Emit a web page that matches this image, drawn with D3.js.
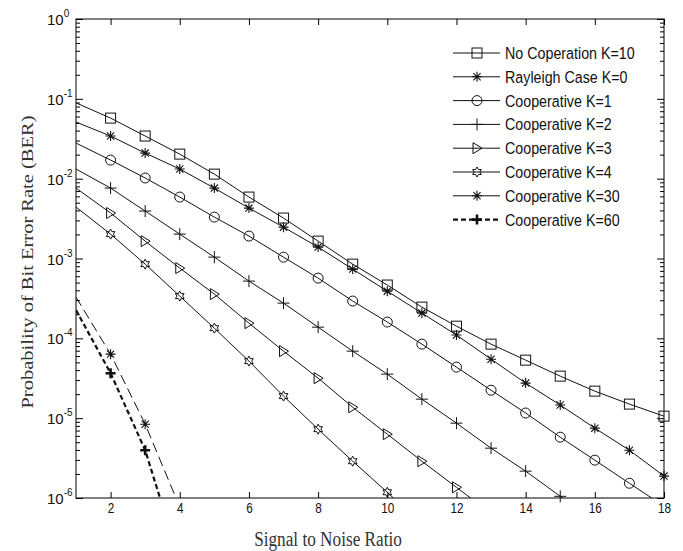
<!DOCTYPE html>
<html>
<head>
<meta charset="utf-8">
<script src="https://cdn.jsdelivr.net/npm/d3@7"></script>
<style>
  body { margin: 0; background: #fff; }
  svg { display: block; }
</style>
</head>
<body>
<svg id="chart" width="683" height="551"></svg>
<script>
// values (BER at SNR = 1, 2, 3, ...)
var snr = [1, 2, 3, 4, 5, 6, 7, 8, 9, 10, 11, 12, 13, 14, 15, 16, 17, 18];
var xTicks = [2, 4, 6, 8, 10, 12, 14, 16, 18];
var yDecades = [1e-6, 1e-5, 1e-4, 1e-3, 1e-2, 1e-1, 1];
var yExponents = ['-6', '-5', '-4', '-3', '-2', '-1', '0'];

var berNoCoop = [0.089, 0.0574, 0.0342, 0.0203, 0.0114, 0.00588, 0.00321, 0.00165, 8.5e-4, 4.65e-4,
  2.46e-4, 1.42e-4, 8.46e-5, 5.33e-5, 3.36e-5, 2.18e-5, 1.50e-5, 1.06e-5];
var berRayleigh = [0.0512, 0.0342, 0.0209, 0.0132, 0.00762, 0.00428, 0.00247, 0.00139, 7.36e-4, 3.90e-4,
  2.07e-4, 1.10e-4, 5.48e-5, 2.75e-5, 1.46e-5, 7.5e-6, 3.97e-6, 1.88e-6];
var berK1 = [0.0279, 0.0171, 0.0102, 0.00588, 0.0033, 0.00191, 0.00104, 5.68e-4, 2.93e-4, 1.60e-4,
  8.46e-5, 4.36e-5, 2.24e-5, 1.16e-5, 5.78e-6, 2.98e-6, 1.53e-6, 7.9e-7];
var berK2 = [0.0132, 0.00762, 0.00393, 0.00202, 0.00104, 5.21e-4, 2.76e-4, 1.38e-4, 6.91e-5, 3.56e-5,
  1.73e-5, 8.66e-6, 4.21e-6, 2.17e-6, 1.05e-6, 5.3e-7];
var berK3 = [0.00762, 0.00371, 0.00165, 7.58e-4, 3.58e-4, 1.55e-4, 6.91e-5, 3.17e-5, 1.37e-5, 6.3e-6,
  2.89e-6, 1.36e-6, 6.4e-7];
var berK4 = [0.00441, 0.00202, 8.5e-4, 3.38e-4, 1.34e-4, 5.18e-5, 1.89e-5, 7.28e-6, 2.89e-6, 1.18e-6, 4.6e-7];
var berK30 = [3.28e-4, 6.34e-5, 8.4e-6, 7.7e-7];
var berK60 = [2.26e-4, 3.66e-5, 3.97e-6, 1.6e-7];

var seriesNames = ['No Coperation K=10', 'Rayleigh Case K=0', 'Cooperative K=1', 'Cooperative K=2',
  'Cooperative K=3', 'Cooperative K=4', 'Cooperative K=30', 'Cooperative K=60'];

var series = [
  {name: seriesNames[0], values: berNoCoop, marker: 'square', dash: null, width: 1},
  {name: seriesNames[1], values: berRayleigh, marker: 'asterisk', dash: null, width: 1},
  {name: seriesNames[2], values: berK1, marker: 'circle', dash: null, width: 1},
  {name: seriesNames[3], values: berK2, marker: 'plus', dash: null, width: 1},
  {name: seriesNames[4], values: berK3, marker: 'triangle', dash: null, width: 1},
  {name: seriesNames[5], values: berK4, marker: 'hexagram', dash: null, width: 1},
  {name: seriesNames[6], values: berK30, marker: 'asterisk', dash: '10,5', width: 1, legendDash: null},
  {name: seriesNames[7], values: berK60, marker: 'boldplus', dash: '5,3', width: 2.2}
];

var SANS = 'Arial, "Liberation Sans", sans-serif';
var SERIF = '"Liberation Serif", "Times New Roman", serif';

var svg = d3.select('#chart');
var pLeft = 76, pRight = 664, pTop = 19, pBottom = 498;
var SQ = 0.84; // text in the reference is squeezed horizontally

var x = d3.scaleLinear().domain([1, 18]).range([pLeft, pRight]);
var y = d3.scaleLog().domain([1e-6, 1]).range([pBottom, pTop]);

var minorTicks = [];
yDecades.slice(0, -1).forEach(function (d) {
  for (var k = 2; k <= 9; k++) minorTicks.push(k * d);
});

svg.append('clipPath').attr('id', 'plotclip')
  .append('rect').attr('x', pLeft).attr('y', pTop)
  .attr('width', pRight - pLeft).attr('height', pBottom - pTop);

// axes, all ticks point inward (matlab box style)
var axisStyle = function (g) {
  g.select('.domain').remove();
  g.selectAll('.tick line').attr('stroke', '#000');
};

svg.append('g').attr('transform', 'translate(0,' + pBottom + ')')
  .call(d3.axisBottom(x).tickValues(xTicks).tickSizeInner(-6).tickSizeOuter(0).tickPadding(5))
  .call(axisStyle)
  .call(function (g) {
    g.selectAll('text')
      .style('font-size', '14px')
      .style('font-family', SANS)
      .attr('fill', '#111')
      .attr('transform', 'scale(' + SQ + ',1)');
  });
svg.append('g').attr('transform', 'translate(0,' + pTop + ')')
  .call(d3.axisTop(x).tickValues(xTicks).tickSizeInner(-6).tickSizeOuter(0).tickFormat(''))
  .call(axisStyle);

svg.append('g').attr('transform', 'translate(' + pLeft + ',0)')
  .call(d3.axisLeft(y).tickValues(yDecades).tickSizeInner(-7).tickSizeOuter(0).tickFormat(''))
  .call(axisStyle);
svg.append('g').attr('transform', 'translate(' + pLeft + ',0)')
  .call(d3.axisLeft(y).tickValues(minorTicks).tickSizeInner(-4).tickSizeOuter(0).tickFormat(''))
  .call(axisStyle);
svg.append('g').attr('transform', 'translate(' + pRight + ',0)')
  .call(d3.axisRight(y).tickValues(yDecades).tickSizeInner(-7).tickSizeOuter(0).tickFormat(''))
  .call(axisStyle);
svg.append('g').attr('transform', 'translate(' + pRight + ',0)')
  .call(d3.axisRight(y).tickValues(minorTicks).tickSizeInner(-4).tickSizeOuter(0).tickFormat(''))
  .call(axisStyle);

// y tick labels as 10 with superscript
yDecades.forEach(function (d, i) {
  var t = svg.append('text')
    .attr('x', 47).attr('y', y(d) + 6)
    .style('font-family', SANS)
    .style('font-size', '15px')
    .attr('fill', '#111');
  t.append('tspan').text('10');
  t.append('tspan').attr('dy', -8).style('font-size', '10px').text(yExponents[i]);
});

svg.append('rect')
  .attr('x', pLeft).attr('y', pTop)
  .attr('width', pRight - pLeft).attr('height', pBottom - pTop)
  .attr('fill', 'none').attr('stroke', '#000').attr('stroke-width', 1);

// markers
var drawMarker = function (g, type, cx, cy) {
  var m = g.append('g').attr('transform', 'translate(' + cx + ',' + cy + ')')
    .attr('fill', 'none').attr('stroke', '#111').attr('stroke-width', 1);
  if (type === 'square') {
    m.append('rect').attr('x', -5).attr('y', -5).attr('width', 10).attr('height', 10);
  } else if (type === 'circle') {
    m.append('circle').attr('r', 5);
  } else if (type === 'plus') {
    m.append('path').attr('d', 'M-6,0H6M0,-6V6');
  } else if (type === 'boldplus') {
    m.append('path').attr('d', 'M-5,0H5M0,-5V5').attr('stroke-width', 2.6);
  } else if (type === 'asterisk') {
    m.append('path').attr('d', 'M-5,0H5M0,-5V5M-3.6,-3.6L3.6,3.6M-3.6,3.6L3.6,-3.6')
      .attr('stroke-width', 1.1);
  } else if (type === 'triangle') {
    m.append('path').attr('d', 'M-4,-5.5L5,0L-4,5.5Z');
  } else if (type === 'hexagram') {
    var pts = [];
    for (var k = 0; k < 12; k++) {
      var r = k % 2 === 0 ? 5 : 2.8;
      var a = -Math.PI / 2 + k * Math.PI / 6;
      pts.push([r * Math.cos(a), r * Math.sin(a)]);
    }
    m.append('path').attr('d', 'M' + pts.join('L') + 'Z');
  }
};

var line = d3.line()
  .x(function (d, i) { return x(snr[i]); })
  .y(function (d) { return y(d); });

var plot = svg.append('g').attr('clip-path', 'url(#plotclip)');
series.forEach(function (s) {
  plot.append('path')
    .attr('d', line(s.values))
    .attr('fill', 'none')
    .attr('stroke', '#111')
    .attr('stroke-width', s.width)
    .attr('stroke-dasharray', s.dash);
  s.values.forEach(function (v, i) {
    if (i === 0 || v < 1e-6) return;
    drawMarker(svg, s.marker, x(snr[i]), y(v));
  });
});

// legend (no box)
var legY0 = 53, legStep = 23.8;
series.forEach(function (s, i) {
  var ly = legY0 + i * legStep;
  var dash = s.legendDash !== undefined ? s.legendDash : s.dash;
  svg.append('line')
    .attr('x1', 453).attr('x2', 500).attr('y1', ly).attr('y2', ly)
    .attr('stroke', '#111').attr('stroke-width', s.width)
    .attr('stroke-dasharray', dash);
  drawMarker(svg, s.marker, 477, ly);
  svg.append('text')
    .attr('transform', 'translate(505,' + (ly + 6) + ') scale(' + SQ + ',1)')
    .style('font-family', SANS)
    .style('font-size', '17px')
    .attr('fill', '#111')
    .text(s.name);
});

// axis titles
svg.append('text')
  .attr('transform', 'translate(328,546) scale(' + SQ + ',1)')
  .attr('text-anchor', 'middle')
  .style('font-family', SERIF)
  .style('font-size', '20.5px')
  .attr('fill', '#333')
  .text('Signal to Noise Ratio');

svg.append('text')
  .attr('transform', 'translate(33,262) scale(' + SQ + ',1) rotate(-90)')
  .attr('text-anchor', 'middle')
  .style('font-family', SERIF)
  .style('font-size', '20.5px')
  .attr('fill', '#333')
  .text('Probability of Bit Error Rate (BER)');
</script>
</body>
</html>
